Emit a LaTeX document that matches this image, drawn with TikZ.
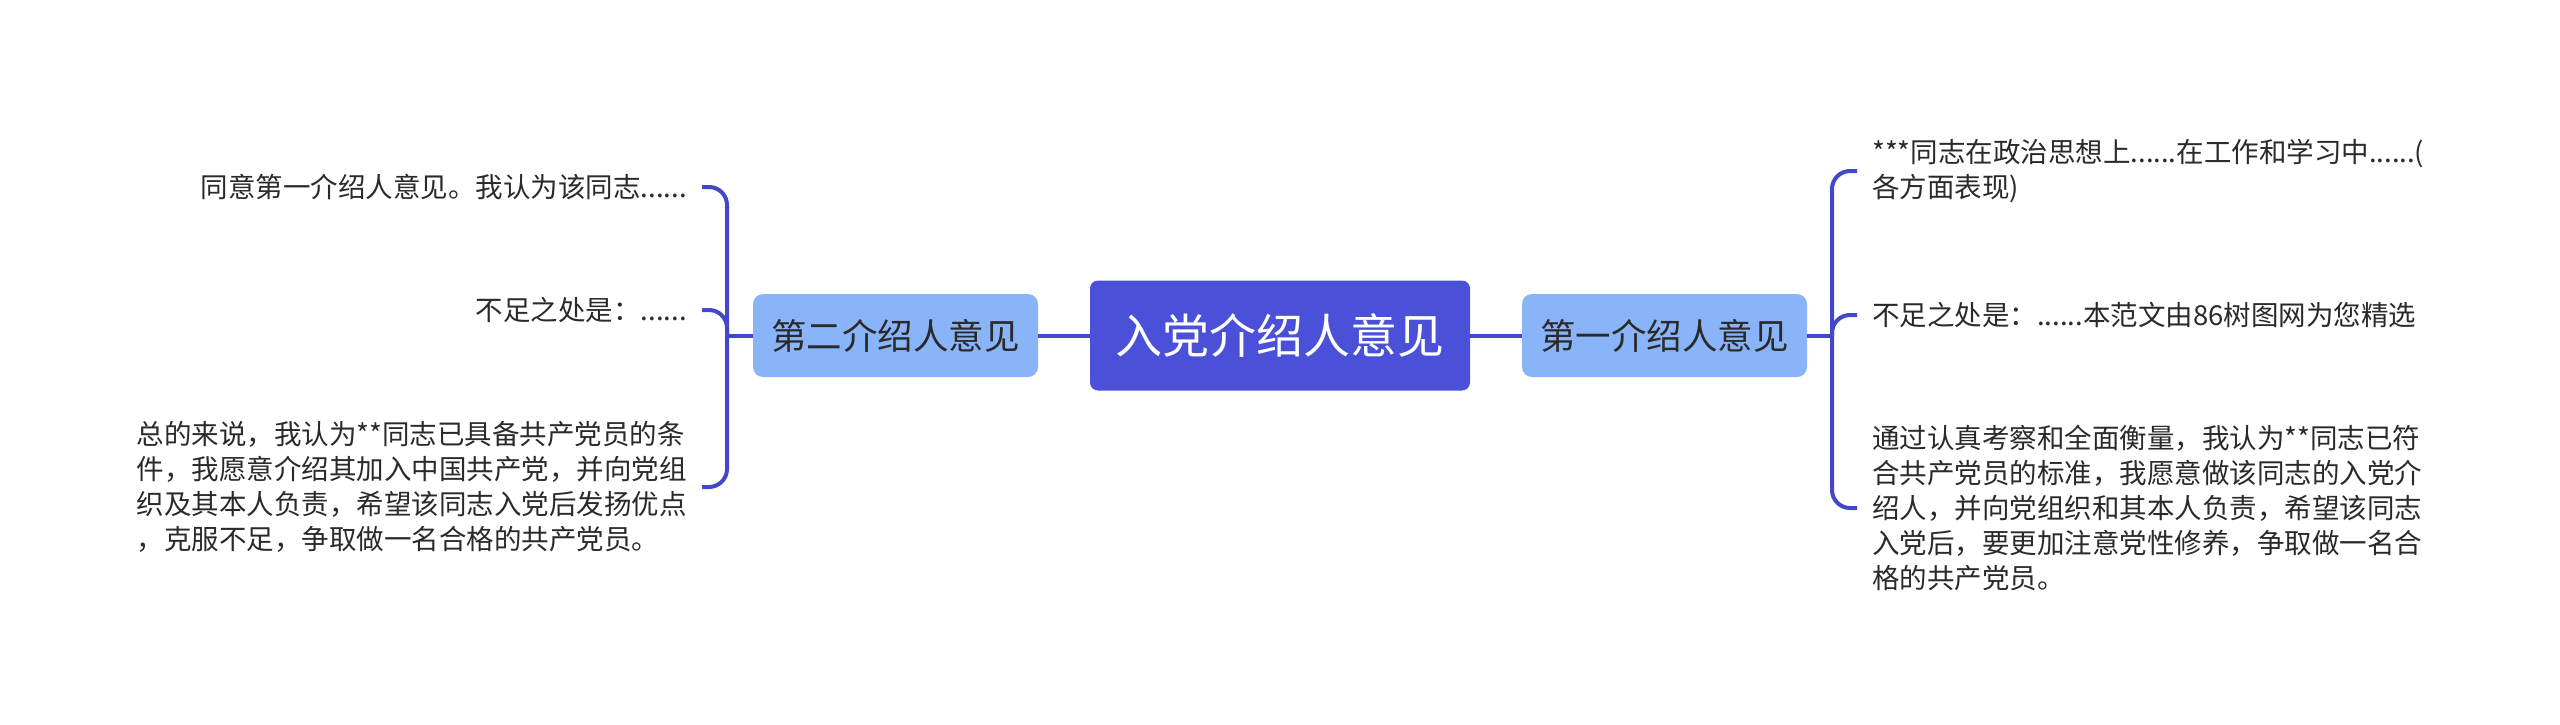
\documentclass[tikz,border=0pt]{standalone}
\usepackage{fontspec}
\setmainfont{Noto Sans CJK SC}
\definecolor{rootc}{HTML}{4A50D8}
\definecolor{childc}{HTML}{8AB4FA}
\definecolor{linec}{HTML}{4248C9}
\definecolor{txt}{HTML}{2A2A2A}
\tikzset{
  rootbox/.style={fill=rootc, rounded corners=8pt, minimum width=380pt, minimum height=110pt, inner sep=0pt, text=white, font=\fontsize{47}{56}\selectfont},
  childbox/.style={fill=childc, rounded corners=10pt, minimum width=285pt, minimum height=83pt, inner sep=0pt, text=txt, font=\fontsize{35.5}{42}\selectfont},
  leafr/.style={anchor=west, inner xsep=15pt, inner ysep=0pt, align=left, text=txt, font=\fontsize{27.5}{35}\selectfont},
  leafl/.style={anchor=east, inner xsep=15pt, inner ysep=0pt, text=txt, font=\fontsize{27.5}{35}\selectfont},
  conn/.style={draw=linec, line width=4pt},
  branch/.style={conn, rounded corners=18pt},
}
\begin{document}
\begin{tikzpicture}[x=1pt,y=-1pt]
\fill[white] (0,0) rectangle (2560,725);
\useasboundingbox (0,0) rectangle (2560,725);

\node[rootbox] (root) at (1280,335.5) {入党介绍人意见};
\node[childbox] (c1) at (1664.5,335.5) {第一介绍人意见};
\node[childbox] (c2) at (895.5,335.5) {第二介绍人意见};

\coordinate (rj) at (1832,335.5);
\coordinate (lj) at (727,335.5);

\node[leafr] (r1) at (1857,171) {***同志在政治思想上......在工作和学习中......(\\各方面表现)};
\node[leafr] (r2) at (1857,315) {不足之处是：......本范文由86树图网为您精选};
\node[leafr] (r3) at (1857,508) {通过认真考察和全面衡量，我认为**同志已符\\合共产党员的标准，我愿意做该同志的入党介\\绍人，并向党组织和其本人负责，希望该同志\\入党后，要更加注意党性修养，争取做一名合\\格的共产党员。};

\node[leafl] (l1) at (702,187) {同意第一介绍人意见。我认为该同志......};
\node[leafl] (l2) at (702,310) {不足之处是：......};
\node[leafl, align=left] (l3) at (702,487) {总的来说，我认为**同志已具备共产党员的条\\件，我愿意介绍其加入中国共产党，并向党组\\织及其本人负责，希望该同志入党后发扬优点\\，克服不足，争取做一名合格的共产党员。};

\draw[conn] (root.east) -- (c1.west);
\draw[conn] (root.west) -- (c2.east);
\draw[conn] (c1.east) -- (rj);
\draw[conn] (c2.west) -- (lj);

\draw[branch] (rj) |- (r1.west);
\draw[branch] (rj) |- (r2.west);
\draw[branch] (rj) |- (r3.west);
\draw[branch] (lj) |- (l1.east);
\draw[branch] (lj) |- (l2.east);
\draw[branch] (lj) |- (l3.east);
\end{tikzpicture}
\end{document}
